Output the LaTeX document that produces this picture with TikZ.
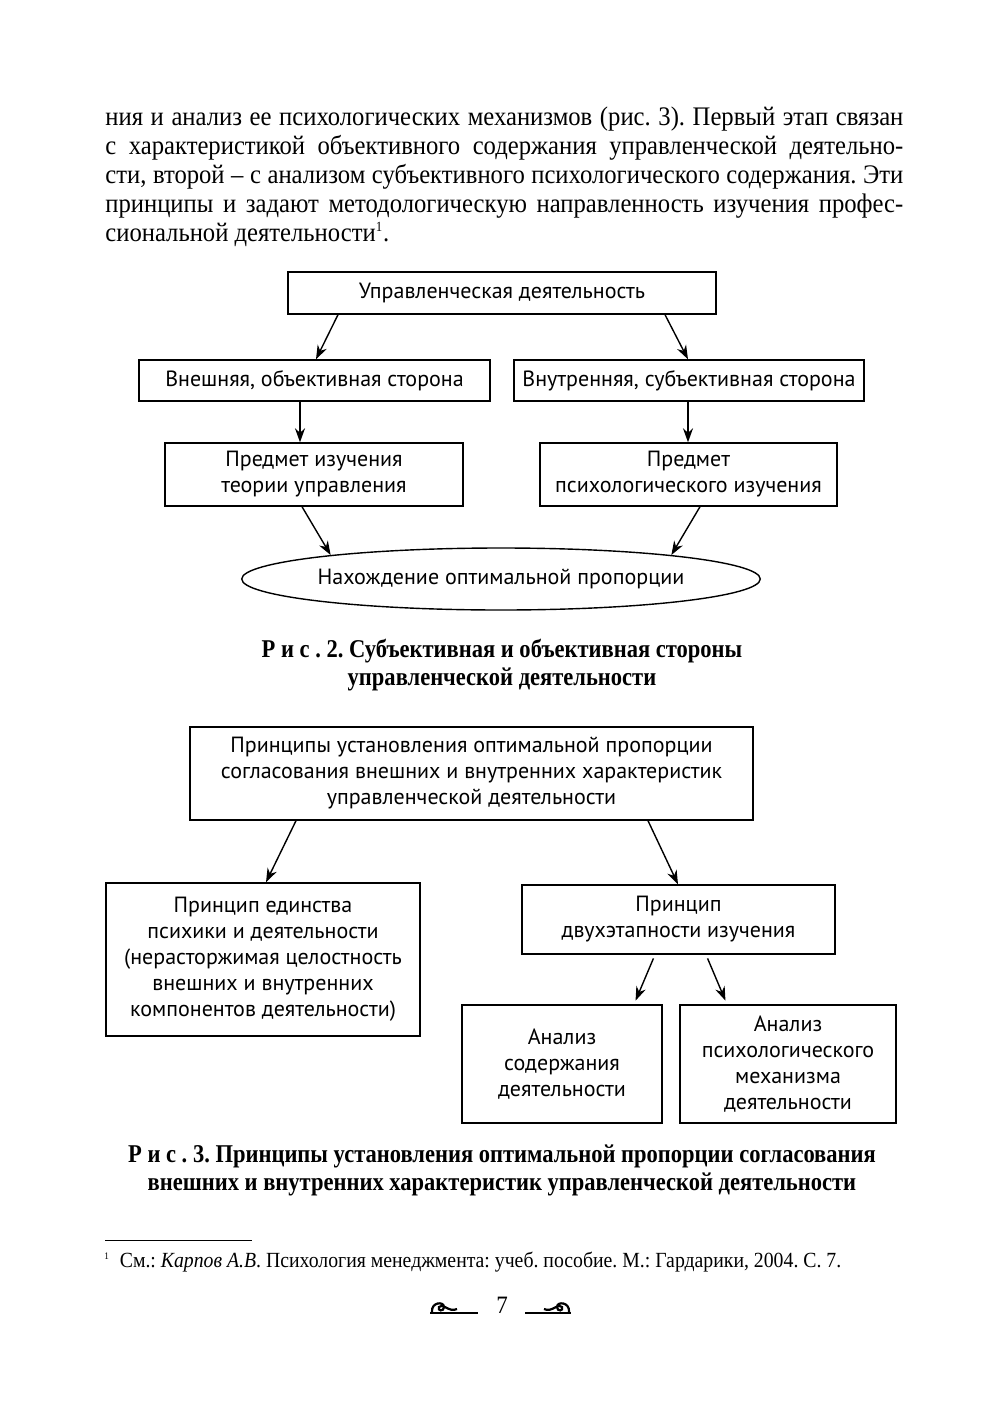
\documentclass[tikz,border=0pt]{standalone}
\usepackage{fontspec}
\setmainfont{Liberation Serif}
\newfontfamily\bodyfont{Liberation Serif}[FakeStretch=0.92]
\newfontfamily\captfont{Liberation Serif}[FakeStretch=0.88]
\newfontfamily\notefont{Liberation Serif}[FakeStretch=0.915]
\newfontfamily\diagfont{PT Sans}
\usetikzlibrary{arrows.meta,shapes.geometric}

\tikzset{
  box/.style={draw, line width=0.7pt, inner sep=0pt, align=center,
    font=\diagfont\fontsize{11}{13}\selectfont},
  arr/.style={-{Stealth[length=7pt,width=5pt]}, line width=0.7pt},
  capt/.style={align=center, inner sep=0pt, font=\captfont\bfseries\fontsize{12.8}{14}\selectfont}
}

\begin{document}
\frenchspacing
\begin{tikzpicture}[x=0.5pt,y=-0.5pt]
\fill[white] (0,0) rectangle (1004,1418);
\useasboundingbox (0,0) rectangle (1004,1418);

% text of the page
\node[anchor=north west, inner sep=0pt, align=left, font=\bodyfont\fontsize{13.4}{14.5}\selectfont] (txt) at (105,107)
 {\makebox[399pt][s]{ния и анализ ее психологических механизмов (рис. 3). Первый этап связан}\\
  \makebox[399pt][s]{с характеристикой объективного содержания управленческой деятельно-}\\
  \makebox[399pt][s]{сти, второй – с анализом субъективного психологического содержания. Эти}\\
  \makebox[399pt][s]{принципы и задают методологическую направленность изучения профес-}\\
  сиональной деятельности\textsuperscript{\scriptsize 1}.};

% fig 2
\node[box, minimum width=214pt, minimum height=21pt] (upr) at (502,293) {Управленческая деятельность};
\node[box, minimum width=175.5pt, minimum height=20.5pt] (vnesh) at (314.5,380.5) {Внешняя, объективная сторона};
\node[box, minimum width=175pt, minimum height=20.5pt] (vnutr) at (689,380.5) {Внутренняя, субъективная сторона};
\node[box, minimum width=149pt, minimum height=31.5pt] (predm1) at (314,474.5) {Предмет изучения\\теории управления};
\node[box, minimum width=148.5pt, minimum height=31.5pt] (predm2) at (688.5,474.5) {Предмет\\психологического изучения};
\node[box, ellipse, minimum width=254pt, minimum height=31pt] (ell) at (501,579) {Нахождение оптимальной пропорции};

\draw[arr] (338,0 |- upr.south) -- (316,0 |- vnesh.north);
\draw[arr] (665,0 |- upr.south) -- (688,0 |- vnutr.north);
\draw[arr] (300,0 |- vnesh.south) -- (300,0 |- predm1.north);
\draw[arr] (688,0 |- vnutr.south) -- (688,0 |- predm2.north);
\draw[arr] (302,0 |- predm1.south) -- (ell.172);
\draw[arr] (700,0 |- predm2.south) -- (ell.8);

\node[capt] (cap2) at (502,665) {Р и с . 2. Субъективная и объективная стороны\\управленческой деятельности};

% fig 3
\node[box, minimum width=281.5pt, minimum height=46.5pt] (princ) at (471.5,773.5)
 {Принципы установления оптимальной пропорции\\согласования внешних и внутренних характеристик\\управленческой деятельности};
\node[box, minimum width=157pt, minimum height=76.5pt] (edin) at (263,959.5)
 {Принцип единства\\психики и деятельности\\(нерасторжимая целостность\\внешних и внутренних\\компонентов деятельности)};
\node[box, minimum width=156.5pt, minimum height=34.5pt] (dvuh) at (678.5,919.5) {Принцип\\двухэтапности изучения};
\node[box, minimum width=100pt, minimum height=59pt] (an1) at (562,1064) {Анализ\\содержания\\деятельности};
\node[box, minimum width=108pt, minimum height=59pt] (an2) at (788,1064) {Анализ\\психологического\\механизма\\деятельности};

\draw[arr] (296,0 |- princ.south) -- (266,0 |- edin.north);
\draw[arr] (648,0 |- princ.south) -- (678,0 |- dvuh.north);
\draw[arr, shorten <=2pt, shorten >=2pt] (655,0 |- dvuh.south) -- (634,0 |- an1.north);
\draw[arr, shorten <=2pt, shorten >=2pt] (706,0 |- dvuh.south) -- (727,0 |- an2.north);

\node[capt] (cap3) at (502,1170.5) {Р и с . 3. Принципы установления оптимальной пропорции согласования\\внешних и внутренних характеристик управленческой деятельности};

% footnote
\draw[line width=0.5pt] (105,1240) -- (252,1240);
\node[anchor=west, inner sep=0pt, font=\notefont\fontsize{10.8}{12}\selectfont] (fn) at (104,1262)
 {\textsuperscript{\tiny 1}\ \ См.: \textit{Карпов А.В}. Психология менеджмента: учеб. пособие. М.: Гардарики, 2004. С.~7.};

% page number
\node[font=\bodyfont\fontsize{12.5}{14}\selectfont] (pg) at (502,1305) {7};
\draw[line width=0.6pt] (430,1313) -- (478,1313);
\draw[line width=1.1pt] (432,1312) .. controls (431,1302) and (444,1301) .. (444,1307)
  .. controls (444,1312) and (437,1311) .. (439,1307) .. controls (442,1302) and (449,1313) .. (457,1309);
\draw[line width=0.6pt] (525,1313) -- (571,1313);
\draw[line width=1.1pt] (569,1312) .. controls (570,1302) and (557,1301) .. (557,1307)
  .. controls (557,1312) and (564,1311) .. (562,1307) .. controls (559,1302) and (552,1313) .. (544,1309);
\end{tikzpicture}
\end{document}
